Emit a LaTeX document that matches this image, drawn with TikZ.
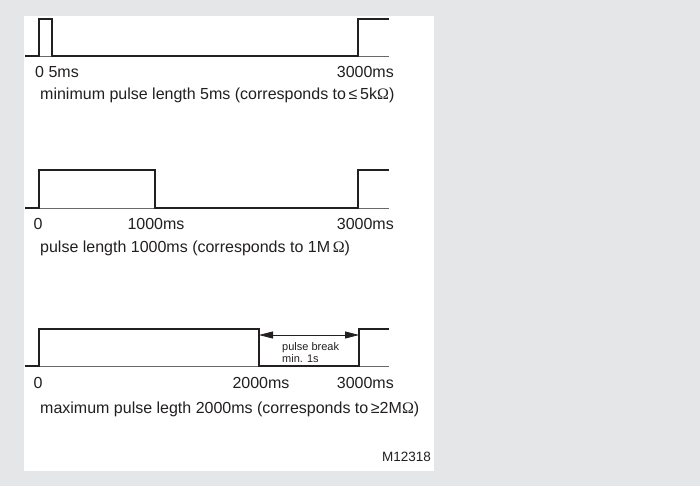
\documentclass[tikz,border=0pt]{standalone}
\usepackage{fontspec}
\setmainfont{Liberation Sans}
\newfontfamily\ohmfont{Liberation Serif}
\usetikzlibrary{arrows.meta,positioning}
\definecolor{pagegray}{RGB}{229,230,232}
\definecolor{inkdark}{RGB}{35,31,32}
\definecolor{axisgray}{RGB}{105,105,105}
\newcommand{\ohm}{{\ohmfont Ω}}

\begin{document}
\begin{tikzpicture}[x=1pt, y=-1pt, >={Triangle[length=14pt,width=7pt]},
  font=\fontsize{16}{18}\selectfont, color=inkdark,
  sig/.style={draw=inkdark, line width=2.6pt, line join=miter},
  axisline/.style={draw=axisgray, line width=0.9pt},
  ticklbl/.style={anchor=base, inner sep=0pt},
  captxt/.style={anchor=base west, inner sep=0pt},
  small/.style={anchor=base west, inner sep=0pt, font=\fontsize{11}{12}\selectfont}]
\useasboundingbox[fill=pagegray] (0,0) rectangle (700,486);
\fill[white] (24,16) rectangle (434,471);
% minimum pulse
\draw[axisline] (25,56) -- (389,56);
\draw[sig] (25,56) -| (39,19) -| (52,56) -| (358,19) -- (389,19);
\node[ticklbl, anchor=base west] (zeroa) at (35,78) {0\ 5ms};
\node[ticklbl, anchor=base east] (enda) at (394,78) {3000ms};
\node[captxt] (capa) at (40,100) {minimum pulse length 5ms (corresponds to\,≤\,5k\ohm)};
% 1000ms pulse
\draw[axisline] (25,208) -- (389,208);
\draw[sig] (25,208) -| (39,170) -| (155,208) -| (358,170) -- (389,170);
\node[ticklbl] (zerob) at (38,229) {0};
\node[ticklbl] (midb) at (156,229) {1000ms};
\node[ticklbl, anchor=base east] (endb) at (394,229) {3000ms};
\node[captxt] (capb) at (40,252) {pulse length 1000ms (corresponds to 1M\,\ohm)};
% maximum pulse
\draw[axisline] (25,366) -- (389,366);
\draw[sig] (25,366) -| (39,329) -| (259,366) -| (359,329) -- (389,329);
\coordinate (fallc) at (259,335);
\coordinate (risec) at (359,335);
\draw[<->, line width=0.8pt] (fallc) -- (risec);
\node[small] (brk) at (282,350) {pulse break};
\node[small] (brkmin) at (282,362) {min. 1s};
\node[ticklbl] (zeroc) at (38,388) {0};
\node[ticklbl] (midc) at (261,388) {2000ms};
\node[ticklbl, anchor=base east] (endc) at (394,388) {3000ms};
\node[captxt] (capc) at (40,413) {maximum pulse legth 2000ms (corresponds to\,≥2M\ohm)};
\node[anchor=base east, inner sep=0pt, font=\fontsize{13.5}{15}\selectfont] (fig) at (431,461) {M12318};
\end{tikzpicture}
\end{document}
